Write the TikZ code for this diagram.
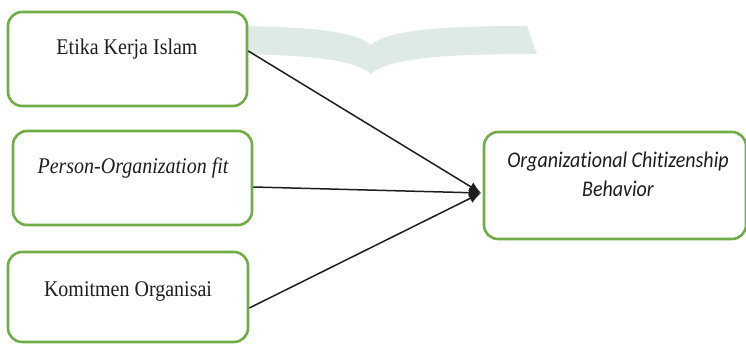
\documentclass[tikz,border=0pt]{standalone}
\usepackage{fontspec}
\setmainfont{Liberation Serif}
\newfontfamily\calfont[Ligatures={NoCommon}]{Carlito}
\usetikzlibrary{arrows.meta}
\definecolor{boxgreen}{RGB}{112,173,71}
\definecolor{inkgray}{RGB}{30,30,30}
\definecolor{bookpale}{RGB}{222,235,229}
\begin{document}
\begin{tikzpicture}[x=1pt,y=-1pt,
  varbox/.style={draw=boxgreen,line width=2.6pt,rounded corners=14pt,fill=white,inner sep=0pt},
  lbl/.style={anchor=base,inner sep=0pt,text=inkgray,font=\fontsize{20}{24}\selectfont,yscale=1.12},
  ocb/.style={lbl,font=\calfont\itshape\fontsize{20}{24}\selectfont},
  conn/.style={draw=inkgray,line width=1.5pt,-{Latex[length=12pt,width=10pt]}}]
\useasboundingbox (0,0) rectangle (746,344);
% faint watermark book
\fill[bookpale] (205,54) -- (215,26) .. controls (300,26) and (355,30) .. (371,45)
  .. controls (387,30) and (442,26) .. (527,26) -- (537,54)
  .. controls (450,54) and (390,57) .. (371,74)
  .. controls (352,57) and (292,54) .. (205,54) -- cycle;
% boxes
\node[varbox,minimum width=239pt,minimum height=94pt] (b1) at (127.5,59) {};
\node[varbox,minimum width=239pt,minimum height=94pt] (b2) at (132.5,178) {};
\node[varbox,minimum width=240pt,minimum height=90pt] (b3) at (128,297) {};
\node[varbox,minimum width=262pt,minimum height=107pt] (b4) at (615,185.5) {};
% labels
\node[lbl] (t1) at (127,55) {Etika Kerja Islam};
\node[lbl] (t2) at (133,174) {\itshape Person-Organization fit};
\node[lbl] (t3) at (128,296) {Komitmen Organisai};
\node[ocb] (t4a) at (618,168) {Organizational Chitizenship};
\node[ocb] (t4b) at (618,197) {Behavior};
% connectors
\coordinate (tip) at (481,193);
\draw[conn] ([yshift=8pt]b1.east) -- (tip);
\draw[conn] ([yshift=-9pt]b2.east) -- (tip);
\draw[conn] ([yshift=-11pt]b3.east) -- (tip);
\end{tikzpicture}
\end{document}
